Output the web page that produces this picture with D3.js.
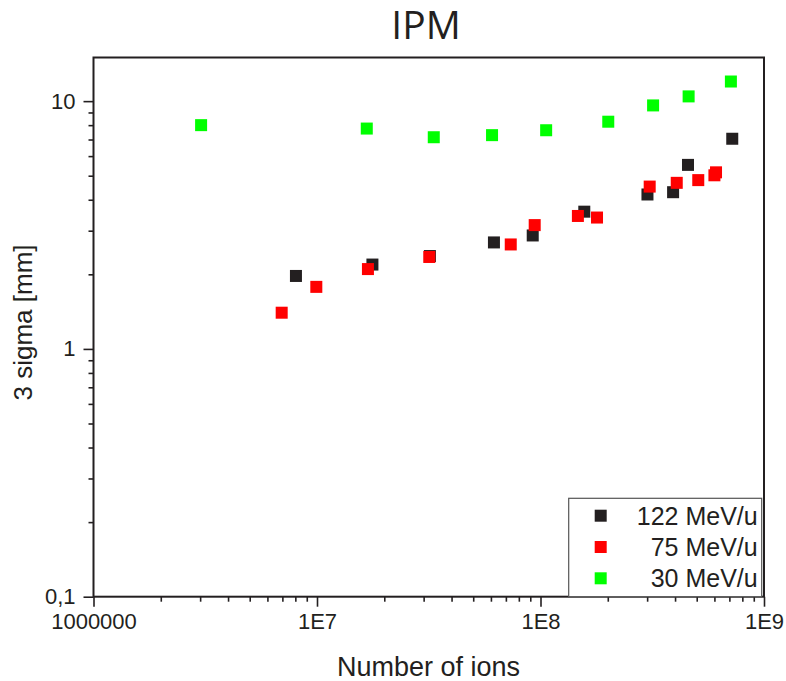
<!DOCTYPE html>
<html>
<head>
<meta charset="utf-8">
<script src="https://cdn.jsdelivr.net/npm/d3@7"></script>
<style>
  body { margin: 0; background: #fff; }
  text { fill: #231f20; font-family: "Liberation Sans", Arial, sans-serif; }
</style>
</head>
<body>
<svg id="chart" width="786" height="681"></svg>
<script>
// series names
const seriesNames = ['122 MeV/u', '75 MeV/u', '30 MeV/u'];
const seriesColors = ['#231f20', '#ff0000', '#00ff00'];

// 122 MeV/u
const ions122 = [8.05e6, 1.77e7, 3.2e7, 6.19e7, 9.23e7, 1.57e8, 3.01e8, 3.92e8, 4.57e8, 7.21e8];
const sigma122 = [1.97, 2.19, 2.37, 2.69, 2.87, 3.58, 4.2, 4.29, 5.53, 7.05];

// 75 MeV/u
const ions75 = [6.95e6, 9.93e6, 1.69e7, 3.18e7, 7.36e7, 9.42e7, 1.47e8, 1.79e8, 3.08e8, 4.07e8, 5.08e8, 6.0e8, 6.1e8];
const sigma75 = [1.4, 1.78, 2.1, 2.35, 2.64, 3.16, 3.44, 3.39, 4.52, 4.68, 4.8, 5.02, 5.16];

// 30 MeV/u
const ions30 = [3.03e6, 1.67e7, 3.33e7, 6.07e7, 1.06e8, 2.01e8, 3.19e8, 4.6e8, 7.11e8];
const sigma30 = [8.0, 7.75, 7.15, 7.29, 7.63, 8.26, 9.61, 10.45, 12.0];

// tick labels
const xTickVals = [1e6, 1e7, 1e8, 1e9];
const xTickLabels = ['1000000', '1E7', '1E8', '1E9'];
const yTickVals = [0.1, 1, 10];
const yTickLabels = ['0,1', '1', '10'];

// plot box (note: "top" is taken by window.top)
var plotLeft = 93.5, plotRight = 764, plotTop = 57.5, plotBottom = 596.7;

var svg = d3.select('#chart');

var x = d3.scaleLog().domain([1e6, 1e9]).range([plotLeft, plotRight]);
var y = d3.scaleLog().domain([0.1, 15]).range([plotBottom, plotTop]);

// minor ticks 2..9 per decade
var xMinor = [], yMinor = [];
for (var e = 6; e < 9; e++) {
    for (var m = 2; m <= 9; m++) xMinor.push(m * Math.pow(10, e));
}
for (var e = -1; e < 2; e++) {
    for (var m = 2; m <= 9; m++) {
        var v = m * Math.pow(10, e);
        if (v <= 15) yMinor.push(v);
    }
}

// x axis
var xAxis = svg.append('g')
    .attr('transform', 'translate(0,' + plotBottom + ')')
    .call(d3.axisBottom(x).tickValues(xTickVals).tickSize(10).tickPadding(7)
        .tickFormat(function(d, i) { return xTickLabels[i]; }));
xAxis.append('g')
    .call(d3.axisBottom(x).tickValues(xMinor).tickSize(5).tickFormat(''));

// y axis
var yAxis = svg.append('g')
    .attr('transform', 'translate(' + plotLeft + ',0)')
    .call(d3.axisLeft(y).tickValues(yTickVals).tickSize(10).tickPadding(8)
        .tickFormat(function(d, i) { return yTickLabels[i]; }));
yAxis.append('g')
    .call(d3.axisLeft(y).tickValues(yMinor).tickSize(5).tickFormat(''));

svg.selectAll('.domain').remove();
svg.selectAll('.tick line').attr('stroke', '#231f20').attr('stroke-width', 1.6);
svg.selectAll('.tick text')
    .style('font-size', '22px')
    .style('font-family', '"Liberation Sans", Arial, sans-serif')
    .attr('fill', '#231f20');

// frame
svg.append('rect')
    .attr('x', plotLeft)
    .attr('y', plotTop)
    .attr('width', plotRight - plotLeft)
    .attr('height', plotBottom - plotTop)
    .attr('fill', 'none')
    .attr('stroke', '#231f20')
    .attr('stroke-width', 2);

// points
var size = 12;
var allSeries = [
    [ions122, sigma122],
    [ions75, sigma75],
    [ions30, sigma30]
];
allSeries.forEach(function(s, k) {
    svg.append('g')
        .selectAll('rect')
        .data(d3.range(s[0].length))
        .enter()
        .append('rect')
        .attr('x', function(i) { return x(s[0][i]) - size / 2; })
        .attr('y', function(i) { return y(s[1][i]) - size / 2; })
        .attr('width', size)
        .attr('height', size)
        .attr('fill', seriesColors[k]);
});

// legend
var legend = svg.append('g');
legend.append('rect')
    .attr('x', 568.7)
    .attr('y', 498.3)
    .attr('width', 193)
    .attr('height', plotBottom - 498.3)
    .attr('fill', '#fff')
    .attr('stroke', '#555')
    .attr('stroke-width', 1.2);

var rows = legend.selectAll('.legend')
    .data(seriesNames)
    .enter().append('g')
    .attr('class', 'legend')
    .attr('transform', function(d, i) { return 'translate(0,' + (515.7 + i * 31.3) + ')'; });

rows.append('rect')
    .attr('x', 600.7 - size / 2)
    .attr('y', -size / 2)
    .attr('width', size)
    .attr('height', size)
    .attr('fill', function(d, i) { return seriesColors[i]; });

rows.append('text')
    .attr('x', 757.7)
    .attr('y', 9)
    .style('text-anchor', 'end')
    .style('font-size', '25px')
    .text(function(d) { return d; });

// title
svg.append('text')
    .attr('x', 426)
    .attr('y', 39)
    .style('text-anchor', 'middle')
    .style('font-family', '"Open Sans", sans-serif')
    .style('font-size', '39px')
    .text('IPM');

// x axis label
svg.append('text')
    .attr('x', 428.5)
    .attr('y', 676)
    .style('text-anchor', 'middle')
    .style('font-size', '27px')
    .text('Number of ions');

// y axis label
svg.append('text')
    .attr('transform', 'rotate(-90)')
    .attr('x', -322.5)
    .attr('y', 32)
    .style('text-anchor', 'middle')
    .style('font-size', '26px')
    .text('3 sigma [mm]');
</script>
</body>
</html>
